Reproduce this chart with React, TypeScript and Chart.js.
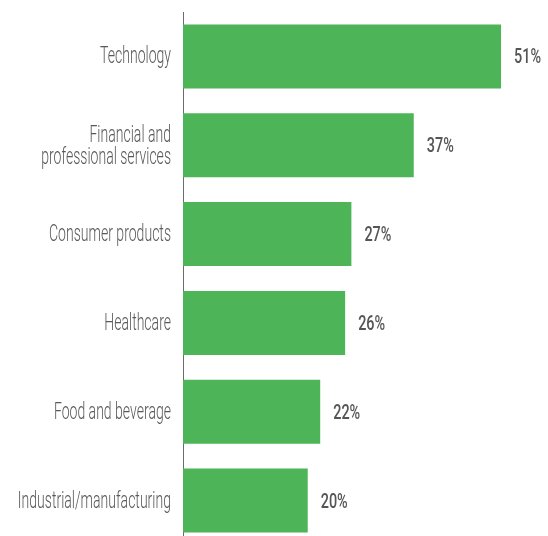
import React, { useEffect, useRef } from "react";
import { Chart, registerables } from "chart.js";

Chart.register(...registerables);

const categories: string[][] = [
  ["Technology"],
  ["Financial and", "professional services"],
  ["Consumer products"],
  ["Healthcare"],
  ["Food and beverage"],
  ["Industrial/manufacturing"],
];
const values: number[] = [51, 37, 27, 26, 22, 20];
const valueLabels: string[] = ["51%", "37%", "27%", "26%", "22%", "20%"];

const LABEL_FONT = "300 23px Roboto, 'Open Sans', sans-serif";
const VALUE_FONT = "500 20px Roboto, 'Open Sans', sans-serif";

const labelPlugin = {
  id: "customLabels",
  afterDatasetsDraw(chart: any) {
    const ctx = chart.ctx;
    const meta = chart.getDatasetMeta(0);
    ctx.save();
    ctx.font = LABEL_FONT;
    const refW = ctx.measureText("Technology").width;
    const sxL = 71 / refW;
    ctx.fillStyle = "#595959";
    ctx.textAlign = "right";
    ctx.textBaseline = "alphabetic";
    const right = chart.chartArea.left - 12;
    meta.data.forEach((bar: any, i: number) => {
      const lines = categories[i];
      const lh = 22;
      const base = bar.y + 7 - ((lines.length - 1) * lh) / 2 + (lines.length - 1) * 1;
      lines.forEach((ln, j) => {
        ctx.save();
        ctx.translate(right, base + j * lh);
        ctx.scale(sxL, 1);
        ctx.fillText(ln, 0, 0);
        ctx.restore();
      });
    });
    ctx.font = VALUE_FONT;
    const vW = ctx.measureText("51%").width;
    const sxV = 27 / vW;
    ctx.fillStyle = "#555555";
    ctx.textAlign = "left";
    meta.data.forEach((bar: any, i: number) => {
      ctx.save();
      ctx.translate(bar.x + 13, bar.y + 7);
      ctx.scale(sxV, 1);
      ctx.fillText(valueLabels[i], 0, 0);
      ctx.restore();
    });
    ctx.restore();
  },
};

export default function App() {
  const ref = useRef<HTMLCanvasElement>(null);
  useEffect(() => {
    if (!ref.current) return;
    const chart = new Chart(ref.current, {
      type: "bar",
      data: {
        labels: categories.map((c) => c.join(" ")),
        datasets: [
          {
            data: values,
            backgroundColor: "#4DB457",
            borderWidth: 0,
            categoryPercentage: 1,
            barPercentage: 0.72,
          },
        ],
      },
      options: {
        indexAxis: "y",
        animation: false,
        responsive: false,
        maintainAspectRatio: false,
        layout: { padding: { top: 12, bottom: 11, right: 22, left: 0 } },
        plugins: {
          legend: { display: false },
          tooltip: { enabled: false },
        },
        scales: {
          x: {
            display: false,
            min: 0,
            max: 55,
          },
          y: {
            grid: { display: false },
            border: { display: true, color: "#6b6b6b", width: 1 },
            ticks: { display: false },
            afterFit(scale: any) {
              scale.width = 183;
            },
          },
        },
      },
      plugins: [labelPlugin],
    });
    return () => chart.destroy();
  }, []);
  return (
    <div style={{ position: "fixed", left: 0, top: 0, width: 548, height: 556, background: "#fff" }}>
      <canvas ref={ref} width={548} height={556} style={{ display: "block" }} />
    </div>
  );
}
